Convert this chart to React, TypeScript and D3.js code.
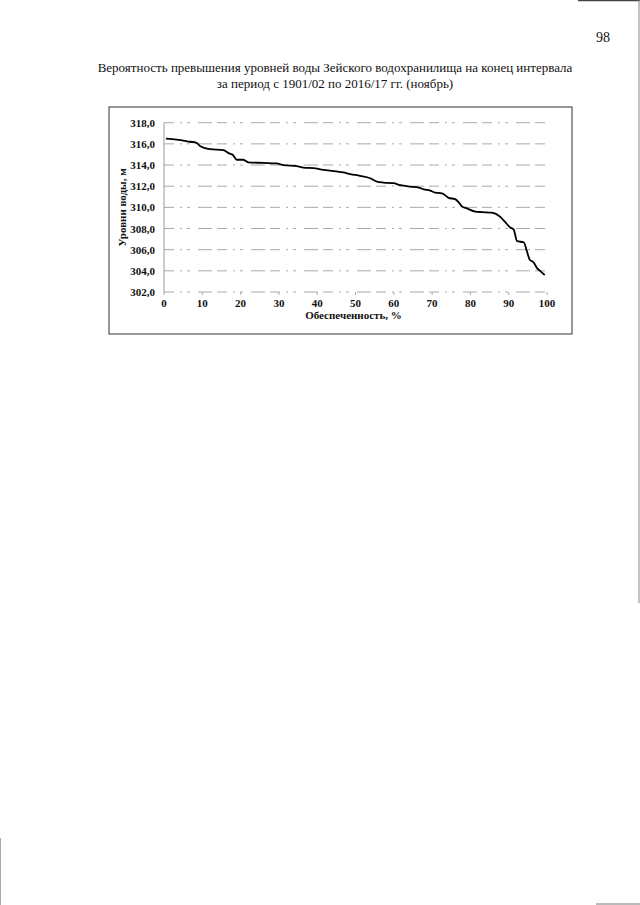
import React from "react";
import * as d3 from "d3";

const titleLines = [
  "Вероятность превышения уровней воды Зейского водохранилища на конец интервала",
  "за период с 1901/02 по 2016/17 гг. (ноябрь)",
];
const yLabel = "Уровни воды, м";
const xLabel = "Обеспеченность, %";
const pageNumber = "98";

const xTicks = [0, 10, 20, 30, 40, 50, 60, 70, 80, 90, 100];
const yTicks = [302, 304, 306, 308, 310, 312, 314, 316, 318];

// probability of exceedance (%)
const prob = [
  0.5, 3.3, 6.8, 8.5, 9.4, 12, 15.5, 17, 18, 19, 20.7, 22, 26, 29.4, 31.2, 34.7,
  36.4, 39, 41.6, 45, 46.8, 48.6, 51.2, 53.8, 55.6, 57.3, 59.9, 61.7, 64.3, 66.5,
  67.8, 69.5, 70.8, 72.6, 74.3, 76, 76.9, 77.8, 79.1, 81.3, 83, 85.6, 87.8, 89.1,
  90.4, 91.3, 92.2, 93.9, 94.8, 95.5, 96.5, 97.4, 98.2, 99.4,
];
// water level (m)
const level = [
  316.5, 316.4, 316.2, 316.1, 315.8, 315.5, 315.4, 315.1, 314.95, 314.5, 314.5,
  314.25, 314.2, 314.15, 314.0, 313.9, 313.75, 313.7, 313.55, 313.4, 313.3,
  313.15, 312.97, 312.75, 312.43, 312.34, 312.28, 312.1, 311.96, 311.87, 311.7,
  311.58, 311.4, 311.33, 310.9, 310.77, 310.5, 310.08, 309.9, 309.6, 309.55,
  309.5, 309.1, 308.6, 308.1, 307.9, 306.8, 306.7, 305.8, 305.05, 304.8, 304.26,
  304.0, 303.6,
];

export default function App() {
  const x = d3.scaleLinear().domain([0, 100]).range([164, 547]);
  const y = d3.scaleLinear().domain([302, 318]).range([292, 122.7]);
  const pts: [number, number][] = prob.map((p, i) => [p, level[i]]);
  const line = d3
    .line<[number, number]>()
    .x((d) => x(d[0]))
    .y((d) => y(d[1]))
    .curve(d3.curveMonotoneX);

  const serif = "'Liberation Serif', 'Times New Roman', serif";

  return (
    <svg
      width={640}
      height={905}
      style={{ position: "absolute", left: 0, top: 0, background: "#fff" }}
      fontFamily={serif}
    >
      <rect x={0} y={0} width={640} height={905} fill="#fff" />
      {/* scan edges */}
      <line x1={578} y1={0.5} x2={640} y2={0.5} stroke="#444" strokeWidth={1.5} />
      <line x1={639} y1={0} x2={639} y2={603} stroke="#888" strokeWidth={1} />
      <line x1={0.5} y1={838} x2={0.5} y2={905} stroke="#aaa" strokeWidth={1} />
      <line x1={596} y1={904} x2={640} y2={904} stroke="#777" strokeWidth={1} />

      <text x={603} y={42} fontSize={14} textAnchor="middle" fill="#111">
        {pageNumber}
      </text>

      {titleLines.map((t, i) => (
        <text
          key={i}
          x={335}
          y={72 + i * 16}
          fontSize={13}
          textAnchor="middle"
          fill="#111"
        >
          {t}
        </text>
      ))}

      {/* chart border */}
      <rect x={109} y={107} width={463} height={227} fill="none" stroke="#333" strokeWidth={1} />

      {/* gridlines */}
      {yTicks.map((v) => (
        <line
          key={v}
          x1={x(0)}
          x2={x(100)}
          y1={y(v)}
          y2={y(v)}
          stroke="#aaa"
          strokeWidth={1}
          strokeDasharray="10 6 2 5 3 8 14 5"
        />
      ))}
      {/* y axis line */}
      <line x1={x(0)} x2={x(0)} y1={y(318)} y2={y(302)} stroke="#999" strokeWidth={1} />
      {xTicks.map((t) => (
        <line key={t} x1={x(t)} x2={x(t)} y1={y(302)} y2={y(302) + 3} stroke="#aaa" />
      ))}

      {/* y tick labels */}
      {yTicks.map((v) => (
        <text
          key={v}
          x={155}
          y={y(v) + 4}
          fontSize={11}
          fontWeight="bold"
          textAnchor="end"
          fill="#111"
        >
          {v.toFixed(1).replace(".", ",")}
        </text>
      ))}
      {/* x tick labels */}
      {xTicks.map((t) => (
        <text
          key={t}
          x={x(t)}
          y={307}
          fontSize={11}
          fontWeight="bold"
          textAnchor="middle"
          fill="#111"
        >
          {t}
        </text>
      ))}

      <text
        x={x(50) - 2}
        y={319}
        fontSize={11}
        fontWeight="bold"
        textAnchor="middle"
        fill="#111"
      >
        {xLabel}
      </text>
      <text
        transform={`translate(126, ${y(310)}) rotate(-90)`}
        fontSize={11}
        fontWeight="bold"
        textAnchor="middle"
        fill="#111"
      >
        {yLabel}
      </text>

      <path d={line(pts) || ""} fill="none" stroke="#000" strokeWidth={1.8} strokeLinejoin="round" />
    </svg>
  );
}
